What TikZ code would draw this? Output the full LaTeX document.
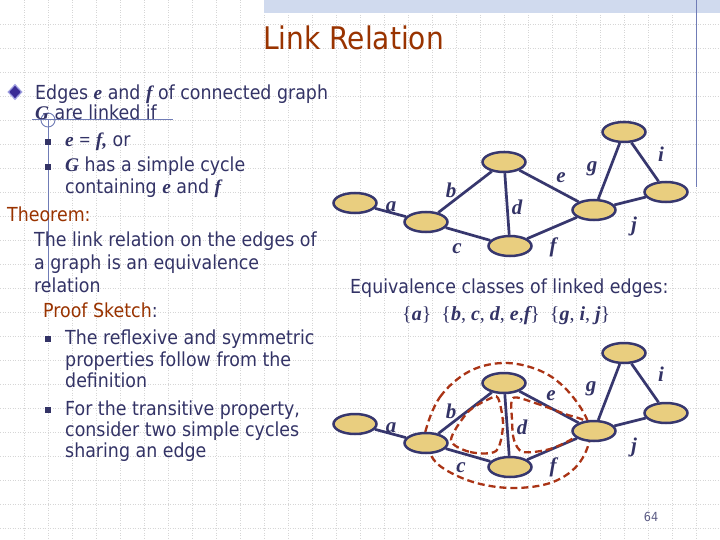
\documentclass[tikz,border=0pt]{standalone}
\usepackage{fontspec}
\setmainfont{DejaVu Sans}[FakeStretch=0.9]
\newfontfamily\serifmath{Liberation Serif}
\usetikzlibrary{shapes.geometric}
\definecolor{navy}{RGB}{51,51,102}
\definecolor{brick}{RGB}{153,51,0}
\definecolor{nodefill}{RGB}{233,206,127}
\definecolor{edgecol}{RGB}{55,55,110}
\definecolor{dashred}{RGB}{170,52,22}
\definecolor{gridgray}{RGB}{214,214,214}
\definecolor{bandcol}{RGB}{208,218,238}
\definecolor{deco}{RGB}{112,124,182}
\definecolor{diafill}{RGB}{58,44,150}
\definecolor{diaedge}{RGB}{160,160,225}
\newcommand{\mv}[1]{{\serifmath\bfseries\itshape #1}}
\pgfdeclarelayer{gridlayer}
\pgfdeclarelayer{edgelayer}
\pgfsetlayers{gridlayer,edgelayer,main}
\begin{document}
\begin{tikzpicture}[x=1pt,y=-1pt,
  body/.style={anchor=base west, inner sep=0pt, text=navy, font=\fontsize{19.35}{23}\selectfont},
  vtx/.style={ellipse, draw=edgecol, fill=nodefill, line width=2.5pt, minimum width=43pt, minimum height=20pt, inner sep=0pt},
  lbl/.style={inner sep=0pt, text=navy, font=\serifmath\bfseries\itshape\fontsize{21}{21}\selectfont},
  gedge/.style={line width=2.7pt, draw=edgecol},
  cyc/.style={line width=2.3pt, draw=dashred, dash pattern=on 7pt off 4pt},
  sq/.style={rectangle, fill=navy, minimum size=6.5pt, inner sep=0pt},
  gridline/.style={draw=gridgray, line width=0.8pt, dash pattern=on 1pt off 1.5pt},
  decoline/.style={draw=deco, line width=0.9pt}
]
\useasboundingbox (0,0) rectangle (720,540);

% background grid and decoration
\begin{pgfonlayer}{gridlayer}
\fill[white] (0,0) rectangle (720,540);
\foreach \k in {1,...,29} \draw[gridline] (24*\k+0.5,0) -- (24*\k+0.5,540);
\foreach \k in {1,...,22} \draw[gridline] (0,24*\k+0.5) -- (720,24*\k+0.5);
\fill[bandcol] (264,0) rectangle (720,13);
\draw[decoline] (696,0) -- (696,187);
\draw[decoline] (32,119) -- (173,119);
\draw[decoline] (48,120) circle[radius=7];
\draw[decoline] (48,120) -- (48,288);
\end{pgfonlayer}

% title
\node[anchor=base west, inner sep=0pt, text=brick, font=\fontsize{31.2}{34}\selectfont] (title) at (263,50) {Link Relation};

% left text
\node[diamond, fill=diafill, draw=diaedge, line width=1.2pt, minimum width=14pt, minimum height=15pt, inner sep=0pt] (dia) at (15,92) {};
\node[body] (l1) at (35,100) {Edges \mv{e} and \mv{f} of connected graph};
\node[body] (l2) at (35,120) {\mv{G} are linked if};
\node[sq] (s1) at (48,142) {};
\node[body] (l3) at (65,147) {\mv{e} {\serifmath\bfseries =} \mv{f}\mv{,} or};
\node[sq] (s2) at (48,167) {};
\node[body] (l4) at (65,172) {\mv{G} has a simple cycle};
\node[body] (l5) at (65,194) {containing \mv{e} and \mv{f}};
\node[body, text=brick] (l6) at (7,222) {Theorem:};
\node[body] (l7) at (34,247) {The link relation on the edges of};
\node[body] (l8) at (34,269) {a graph is an equivalence};
\node[body] (l9) at (34,292) {relation};
\node[body] (l10) at (43,317) {\textcolor{brick}{Proof Sketch}:};
\node[sq] (s3) at (48,339) {};
\node[body] (l11) at (65,344) {The reflexive and symmetric};
\node[body] (l12) at (65,366) {properties follow from the};
\node[body] (l13) at (65,387) {definition};
\node[sq] (s4) at (48,410) {};
\node[body] (l14) at (65,415) {For the transitive property,};
\node[body] (l15) at (65,436) {consider two simple cycles};
\node[body] (l16) at (65,457) {sharing an edge};

% equivalence text
\node[body] (eq1) at (350,293) {Equivalence classes of linked edges:};
\node[anchor=base west, inner sep=0pt, text=navy, font=\serifmath\fontsize{20}{20}\selectfont] (eq2) at (402,320)
  {\{\mv{a}\}\ \ \{\mv{b}, \mv{c}, \mv{d}, \mv{e},\mv{f}\}\ \ \{\mv{g}, \mv{i}, \mv{j}\}};

% top graph
\node[vtx] (a1) at (355,203) {};
\node[vtx] (b1) at (426,222) {};
\node[vtx] (t1) at (504,162) {};
\node[vtx] (c1) at (510,246) {};
\node[vtx] (e1) at (594,210) {};
\node[vtx] (g1) at (624,132) {};
\node[vtx] (i1) at (666,192) {};
\begin{pgfonlayer}{edgelayer}
\draw[gedge] (a1) -- (b1);
\draw[gedge] (b1) -- (t1);
\draw[gedge] (b1) -- (c1);
\draw[gedge] (t1) -- (c1);
\draw[gedge] (t1) -- (e1);
\draw[gedge] (c1) -- (e1);
\draw[gedge] (e1) -- (g1);
\draw[gedge] (g1) -- (i1);
\draw[gedge] (e1) -- (i1);
\end{pgfonlayer}
\node[lbl] (la1) at (391,207) {a};
\node[lbl] (lb1) at (451,190) {b};
\node[lbl] (lc1) at (457,249) {c};
\node[lbl] (ld1) at (517,207) {d};
\node[lbl] (le1) at (561,178) {e};
\node[lbl] (lf1) at (553,247) {f};
\node[lbl] (lg1) at (592,169) {g};
\node[lbl] (li1) at (661,154) {i};
\node[lbl] (lj1) at (634,226) {j};

% bottom graph
\node[vtx] (a2) at (355,424) {};
\node[vtx] (b2) at (426,443) {};
\node[vtx] (t2) at (504,383) {};
\node[vtx] (c2) at (510,467) {};
\node[vtx] (e2) at (594,431) {};
\node[vtx] (g2) at (624,353) {};
\node[vtx] (i2) at (666,413) {};
\begin{pgfonlayer}{edgelayer}
\draw[gedge] (a2) -- (b2);
\draw[gedge] (b2) -- (t2);
\draw[gedge] (b2) -- (c2);
\draw[gedge] (t2) -- (c2);
\draw[gedge] (t2) -- (e2);
\draw[gedge] (c2) -- (e2);
\draw[gedge] (e2) -- (g2);
\draw[gedge] (g2) -- (i2);
\draw[gedge] (e2) -- (i2);
% dashed cycles
\draw[cyc] plot[smooth cycle, tension=0.6] coordinates {(425,433) (440,397) (470,371) (507,363) (545,373) (573,397) (590,430) (580,462) (553,482) (513,488) (473,482) (440,466) (427,447)};
\draw[cyc] plot[smooth cycle, tension=0.5] coordinates {(451,440) (470,452) (496,451) (503,425) (498,398) (489,399) (468,412)};
\draw[cyc] plot[smooth cycle, tension=0.5] coordinates {(513,398) (535,403) (565,414) (586,422) (575,437) (550,449) (523,452) (514,440) (512,420)};
\end{pgfonlayer}
\node[lbl] (la2) at (391,428) {a};
\node[lbl] (lb2) at (451,411) {b};
\node[lbl] (lc2) at (461,468) {c};
\node[lbl] (ld2) at (522,427) {d};
\node[lbl] (le2) at (551,396) {e};
\node[lbl] (lf2) at (553,467) {f};
\node[lbl] (lg2) at (591,389) {g};
\node[lbl] (li2) at (661,374) {i};
\node[lbl] (lj2) at (634,447) {j};

% page number
\node[inner sep=0pt, text=navy!80, font=\fontsize{12.5}{13}\selectfont] (pg) at (651,517) {64};
\end{tikzpicture}
\end{document}
